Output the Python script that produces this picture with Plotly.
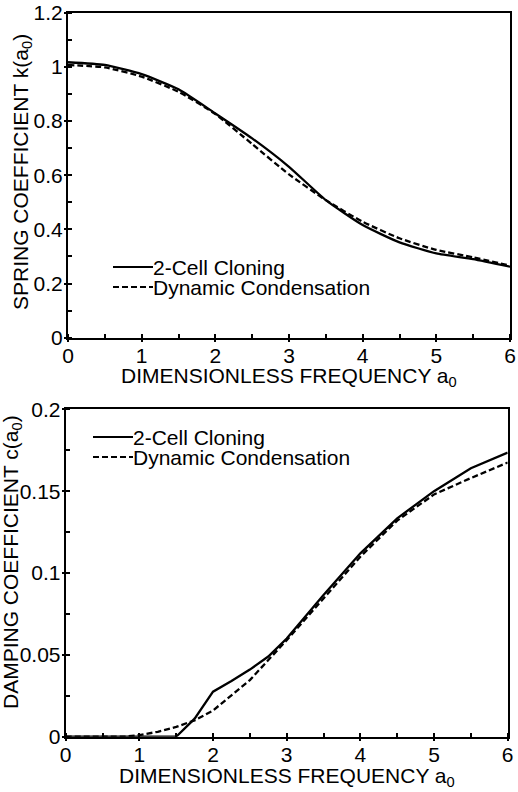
import plotly.graph_objects as go

# ---- data ----
a_top = [0, 0.5, 1.0, 1.5, 2.0, 2.5, 3.0, 3.5, 4.0, 4.5, 5.0, 5.5, 6.0]
k_cloning = [1.017, 1.007, 0.973, 0.917, 0.828, 0.736, 0.631, 0.508, 0.416, 0.352, 0.311, 0.290, 0.262]
k_condens = [1.007, 0.998, 0.964, 0.908, 0.826, 0.715, 0.603, 0.508, 0.428, 0.367, 0.324, 0.297, 0.266]

a_bot_clon = [0, 1.5, 1.75, 2.0, 2.25, 2.5, 2.75, 3.0, 3.5, 4.0, 4.5, 5.0, 5.5, 6.0]
c_cloning = [0, 0, 0.011, 0.0275, 0.034, 0.041, 0.049, 0.060, 0.0866, 0.112, 0.1334, 0.150, 0.164, 0.1735]
a_bot_cond = [0, 0.8, 1.0, 1.25, 1.5, 1.75, 2.0, 2.5, 3.0, 3.5, 4.0, 4.5, 5.0, 5.5, 6.0]
c_condens = [0, 0, 0.001, 0.003, 0.006, 0.010, 0.016, 0.0346, 0.059, 0.0845, 0.110, 0.132, 0.148, 0.158, 0.1675]

x_ticks = [0, 1, 2, 3, 4, 5, 6]
k_ticks = [0, 0.2, 0.4, 0.6, 0.8, 1, 1.2]
k_tick_text = ["0", "0.2", "0.4", "0.6", "0.8", "1", "1.2"]
c_ticks = [0, 0.05, 0.1, 0.15, 0.2]
c_tick_text = ["0", "0.05", "0.1", "0.15", "0.2"]

FONT = "Liberation Sans, Arial, sans-serif"
FS = 21
W, H = 518, 792
DASH = "6px,3px"

fig = go.Figure()
line_solid = dict(color="black", width=2.3)
line_dash = dict(color="black", width=2.3, dash=DASH)

fig.add_trace(go.Scatter(x=a_top, y=k_cloning, mode="lines", line=dict(**line_solid, shape="spline", smoothing=0.5),
                         xaxis="x", yaxis="y", showlegend=False))
fig.add_trace(go.Scatter(x=a_top, y=k_condens, mode="lines", line=dict(**line_dash, shape="spline", smoothing=0.5),
                         xaxis="x", yaxis="y", showlegend=False))
fig.add_trace(go.Scatter(x=a_bot_clon, y=c_cloning, mode="lines", line=line_solid,
                         xaxis="x2", yaxis="y2", showlegend=False))
fig.add_trace(go.Scatter(x=a_bot_cond, y=c_condens, mode="lines", line=line_dash,
                         xaxis="x2", yaxis="y2", showlegend=False))

def xax(domain, anchor):
    return dict(domain=domain, anchor=anchor, range=[0, 6], tickmode="array", tickvals=x_ticks,
                ticks="outside", ticklen=2, tickwidth=1.5, tickcolor="black", ticklabelstandoff=-4,
                minor=dict(dtick=0.5, tick0=0, ticks="inside", ticklen=4, tickwidth=1.5, tickcolor="black", showgrid=False),
                showline=True, linecolor="black", linewidth=2, mirror=True, showgrid=False, zeroline=False,
                automargin=False,
                tickfont=dict(family=FONT, size=FS, color="black"))

def yax(domain, anchor, rng, vals, text, minor_dt):
    return dict(domain=domain, anchor=anchor, range=rng, tickmode="array", tickvals=vals, ticktext=text,
                ticks="outside", ticklen=2, tickwidth=1.5, tickcolor="black", ticklabelstandoff=-3,
                minor=dict(dtick=minor_dt, tick0=0, ticks="inside", ticklen=4, tickwidth=1.5, tickcolor="black", showgrid=False),
                showline=True, linecolor="black", linewidth=2, mirror=True, showgrid=False, zeroline=False,
                automargin=False,
                tickfont=dict(family=FONT, size=FS, color="black"))

fig.update_layout(
    width=W, height=H, margin=dict(l=0, r=0, t=0, b=0, autoexpand=False),
    paper_bgcolor="white", plot_bgcolor="white",
    xaxis=xax([68 / W, 510 / W], "y"),
    yaxis=yax([1 - 337.7 / H, 1 - 12.7 / H], "x", [0, 1.2], k_ticks, k_tick_text, 0.1),
    xaxis2=xax([65.7 / W, 507.7 / W], "y2"),
    yaxis2=yax([1 - 736.7 / H, 1 - 409.3 / H], "x2", [0, 0.2], c_ticks, c_tick_text, 0.025),
)

def text(x, y, t, angle=0, xanchor="center"):
    fig.add_annotation(xref="paper", yref="paper", x=x / W, y=1 - y / H, text=t, textangle=angle,
                       showarrow=False, xanchor=xanchor, yanchor="middle",
                       font=dict(family=FONT, size=FS, color="black"))

# axis titles
text(289, 377, "DIMENSIONLESS FREQUENCY a<sub>0</sub>")
text(287, 777, "DIMENSIONLESS FREQUENCY a<sub>0</sub>")
text(22, 172, "SPRING COEFFICIENT k(a<sub>0</sub>)", angle=-90)
text(12, 562, "DAMPING COEFFICIENT c(a<sub>0</sub>)", angle=-90)

# legends drawn as shapes + annotations in paper coords
def legend(x0, x1, y_solid, y_dash):
    for y, d in [(y_solid, "solid"), (y_dash, DASH)]:
        fig.add_shape(type="line", xref="paper", yref="paper", x0=x0 / W, x1=x1 / W,
                      y0=1 - y / H, y1=1 - y / H, line=dict(color="black", width=2.2, dash=d))
    text(x1 - 2, y_solid, "2-Cell Cloning", xanchor="left")
    text(x1 - 2, y_dash, "Dynamic Condensation", xanchor="left")

legend(113, 153, 267, 287)
legend(93, 133, 437, 457)

fig.write_html("out.html", config={"displayModeBar": False},
               post_script="document.body.style.margin='0';document.body.style.overflow='hidden';")
